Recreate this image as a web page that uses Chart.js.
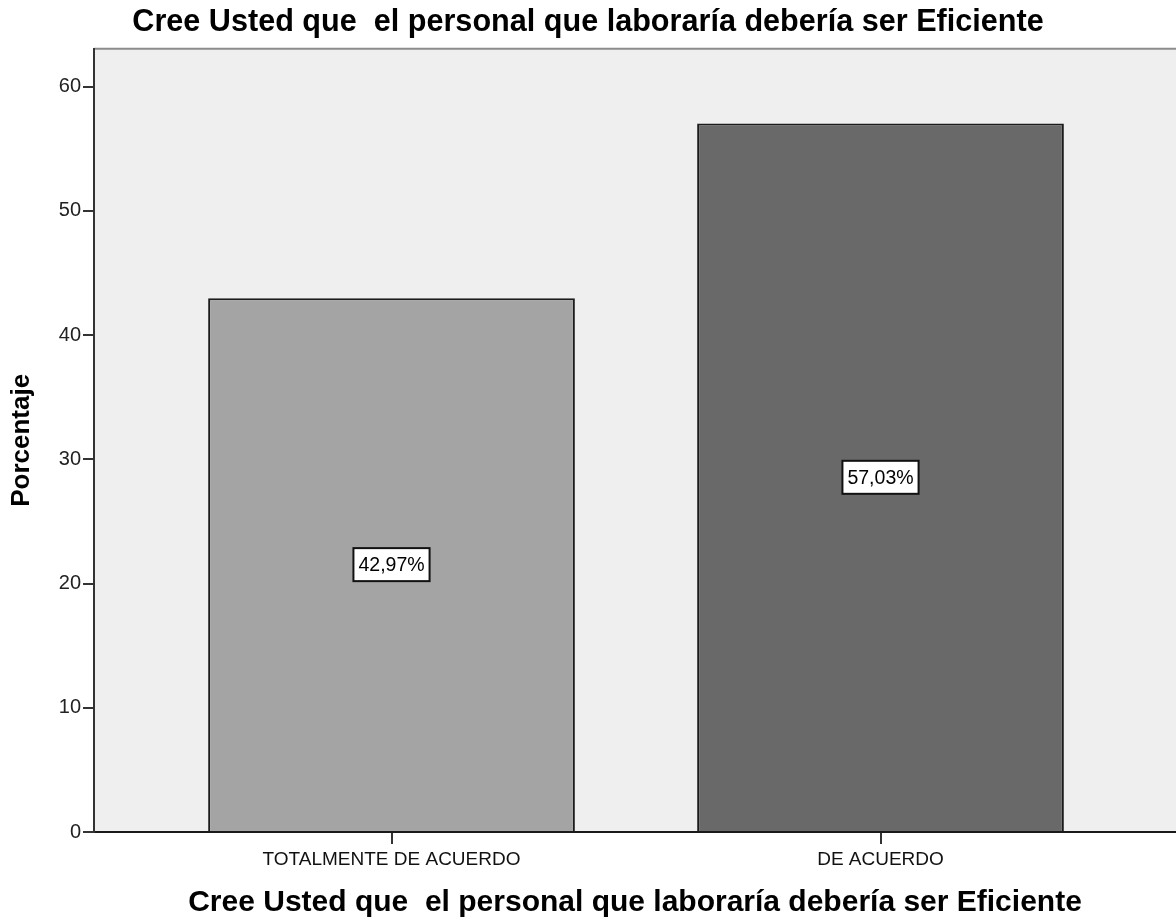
<!DOCTYPE html>
<html>
<head>
<meta charset="utf-8">
<script src="https://cdn.jsdelivr.net/npm/chart.js@4.4.1/dist/chart.umd.min.js"></script>
<style>
  html, body { margin: 0; padding: 0; background: #fff; }
  #wrap { width: 1176px; height: 921px; }
</style>
</head>
<body>
<div id="wrap"><canvas id="c" width="1176" height="921"></canvas></div>
<script>
// chart data
const chartTitle = 'Cree Usted que  el personal que laboraría debería ser Eficiente';
const categories = ['TOTALMENTE DE ACUERDO', 'DE ACUERDO'];
const percentages = [42.97, 57.03];
const barColors = ['#a4a4a4', '#696969'];
const yTicks = [0, 10, 20, 30, 40, 50, 60];
const yLabel = 'Porcentaje';

const FONT = '"Liberation Sans", Arial, sans-serif';

// plot background + top frame line
const plotFrame = {
  id: 'plotFrame',
  beforeDraw(chart) {
    const { ctx, chartArea: a } = chart;
    ctx.save();
    ctx.fillStyle = '#efefef';
    ctx.fillRect(a.left, a.top, a.right - a.left, a.bottom - a.top);
    ctx.strokeStyle = '#8c8c8c';
    ctx.lineWidth = 2;
    ctx.beginPath();
    ctx.moveTo(a.left, a.top);
    ctx.lineTo(a.right, a.top);
    ctx.stroke();
    ctx.restore();
  }
};

// boxed percentage labels in the middle of each bar
const boxLabels = {
  id: 'boxLabels',
  afterDatasetsDraw(chart) {
    const { ctx } = chart;
    const meta = chart.getDatasetMeta(0);
    ctx.save();
    ctx.font = '19.5px ' + FONT;
    ctx.textAlign = 'center';
    ctx.textBaseline = 'middle';
    meta.data.forEach((bar, i) => {
      const txt = percentages[i].toFixed(2).replace('.', ',') + '%';
      const cx = bar.x, cy = (bar.y + bar.base) / 2;
      const w = ctx.measureText(txt).width + 10, h = 33;
      ctx.fillStyle = '#fff';
      ctx.fillRect(cx - w / 2, cy - h / 2, w, h);
      ctx.strokeStyle = '#111';
      ctx.lineWidth = 2;
      ctx.strokeRect(cx - w / 2, cy - h / 2, w, h);
      ctx.fillStyle = '#000';
      ctx.fillText(txt, cx, cy + 1);
    });
    ctx.restore();
  }
};

new Chart(document.getElementById('c'), {
  type: 'bar',
  data: {
    datasets: [{
      data: percentages.map((v, i) => ({ x: i, y: v })),
      backgroundColor: barColors,
      borderColor: '#1c1c1c',
      borderWidth: 2,
      borderSkipped: 'bottom',
      barPercentage: 0.75,
      categoryPercentage: 1
    }]
  },
  options: {
    responsive: false,
    animation: false,
    layout: { padding: 0 },
    plugins: {
      legend: { display: false },
      tooltip: { enabled: false },
      title: {
        display: true,
        text: chartTitle,
        color: '#000',
        font: { family: FONT, size: 30.6, weight: 'bold' },
        padding: { top: 4, bottom: 8 }
      }
    },
    scales: {
      x: {
        type: 'linear',
        offset: false,
        min: -0.6084,
        max: 1.6043,
        afterFit(s) { s.height = 89; },
        afterBuildTicks(s) { s.ticks = categories.map((c, i) => ({ value: i })); },
        grid: { offset: false, drawOnChartArea: false, drawTicks: true, tickLength: 12, color: '#333', lineWidth: 2 },
        border: { color: '#1a1a1a', width: 2 },
        ticks: {
          padding: 4,
          color: '#111',
          font: { family: FONT, size: 19 },
          autoSkip: false,
          maxRotation: 0,
          callback: (v) => categories[v] || ''
        },
        title: {
          display: true,
          text: chartTitle,
          color: '#000',
          font: { family: FONT, size: 30, weight: 'bold' },
          padding: { top: 6, bottom: 0 }
        }
      },
      y: {
        min: 0,
        max: 63.06,
        afterFit(s) { s.width = 94; },
        afterBuildTicks(s) { s.ticks = yTicks.map(v => ({ value: v })); },
        grid: { drawOnChartArea: false, drawTicks: true, tickLength: 11, color: '#333', lineWidth: 2 },
        border: { color: '#333', width: 2 },
        ticks: {
          padding: 2,
          color: '#222',
          font: { family: FONT, size: 20 },
          callback: (v) => String(v)
        },
        title: {
          display: true,
          text: yLabel,
          color: '#000',
          font: { family: FONT, size: 26, weight: 'bold' },
          padding: { top: 6, bottom: 0 }
        }
      }
    }
  },
  plugins: [plotFrame, boxLabels]
});
</script>
</body>
</html>
